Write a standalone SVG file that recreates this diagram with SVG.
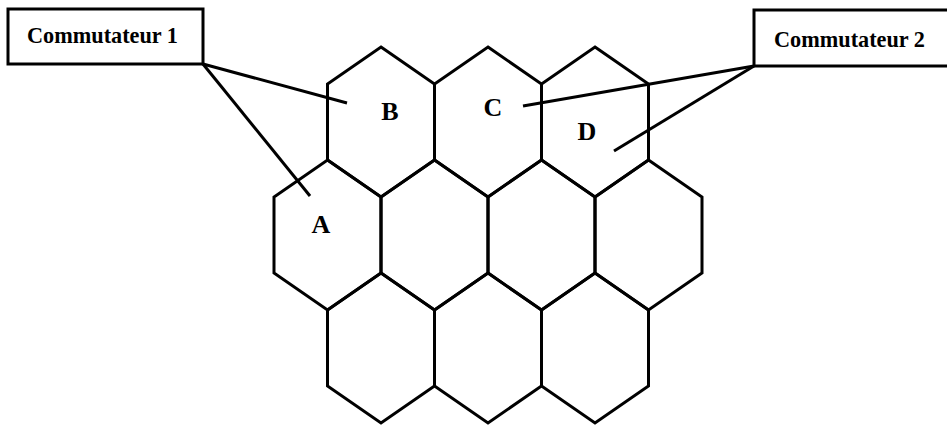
<svg xmlns="http://www.w3.org/2000/svg" width="947" height="426" viewBox="0 0 947 426">
<style>
.hex{fill:none;stroke:#000;stroke-width:3;stroke-linejoin:miter}
.box{fill:#fff;stroke:#000;stroke-width:3}
.lbl{font-family:"Liberation Serif","Times New Roman",serif;font-weight:bold;font-size:24px;fill:#000}
.cl{font-family:"Liberation Serif","Times New Roman",serif;font-weight:bold;font-size:26px;fill:#000;text-anchor:middle}
.con{stroke:#000;stroke-width:3;fill:none}
</style>
<defs>
<polygon id="h" points="0,0 53.5,37 53.5,113 0,150 -53.5,113 -53.5,37"/>
</defs>
<rect width="947" height="426" fill="#fff"/>
<g id="hex-B"><use href="#h" class="hex" x="381" y="47"/><text class="cl" x="390" y="120">B</text></g>
<g id="hex-C"><use href="#h" class="hex" x="488" y="47"/><text class="cl" x="493" y="116">C</text></g>
<g id="hex-D"><use href="#h" class="hex" x="595" y="47"/><text class="cl" x="587" y="140">D</text></g>
<g id="hex-A"><use href="#h" class="hex" x="327.5" y="160"/><text class="cl" x="321" y="233">A</text></g>
<g id="hex-m2"><use href="#h" class="hex" x="434.5" y="160"/></g>
<g id="hex-m3"><use href="#h" class="hex" x="541.5" y="160"/></g>
<g id="hex-m4"><use href="#h" class="hex" x="648.5" y="160"/></g>
<g id="hex-b1"><use href="#h" class="hex" x="381" y="273"/></g>
<g id="hex-b2"><use href="#h" class="hex" x="488" y="273"/></g>
<g id="hex-b3"><use href="#h" class="hex" x="595" y="273"/></g>
<g id="commutateur1"><rect class="box" x="8" y="9" width="195" height="55"/><text class="lbl" x="27" y="43" textLength="151" lengthAdjust="spacingAndGlyphs">Commutateur 1</text></g>
<g id="commutateur2"><rect class="box" x="754" y="10" width="200" height="56"/><text class="lbl" x="774" y="47" textLength="151" lengthAdjust="spacingAndGlyphs">Commutateur 2</text></g>
<g id="connectors">
<line class="con" x1="203" y1="64" x2="347" y2="103"/>
<line class="con" x1="203" y1="64" x2="310" y2="196"/>
<line class="con" x1="754" y1="66" x2="523" y2="106"/>
<line class="con" x1="754" y1="66" x2="614" y2="151"/>
</g>
</svg>
